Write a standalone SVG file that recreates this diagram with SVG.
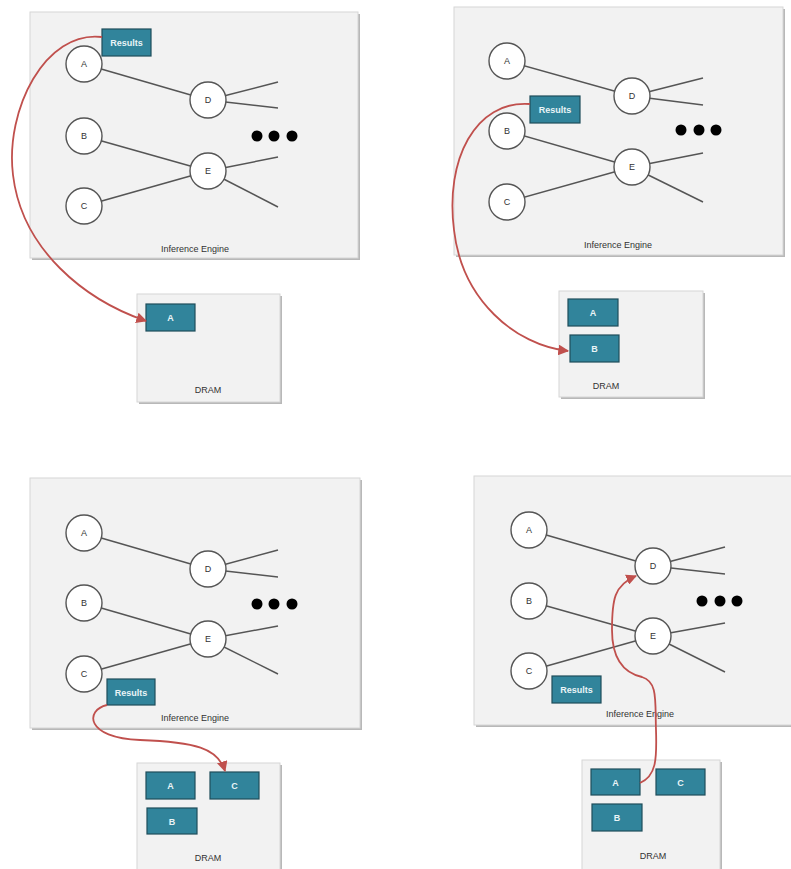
<svg xmlns="http://www.w3.org/2000/svg" width="791" height="869" viewBox="0 0 791 869">
<defs>
<style>
.panel{fill:#f2f2f2;stroke:#d6d6d6;stroke-width:1}
.shadow{fill:#b8b8b8}
.node{fill:#ffffff;stroke:#555555;stroke-width:1.4}
.edge{stroke:#555555;stroke-width:1.5;fill:none}
.box{fill:#31849b;stroke:#1e4d5a;stroke-width:1.2}
.lbl{font-family:"Liberation Sans",Arial,sans-serif;font-size:9px;fill:#333333;text-anchor:middle}
.boxlbl{font-family:"Liberation Sans",Arial,sans-serif;font-size:9px;font-weight:bold;fill:#eaf4f7;text-anchor:middle}
.cap{font-family:"Liberation Sans",Arial,sans-serif;font-size:9px;fill:#333333;text-anchor:middle}
.dot{fill:#000000}
.flow{stroke:#c0504d;stroke-width:1.8;fill:none;marker-end:url(#arr)}
</style>
<marker id="arr" viewBox="0 0 10 10" refX="9" refY="5" markerWidth="6" markerHeight="6" orient="auto" markerUnits="strokeWidth">
<path d="M0,0 L10,5 L0,10 z" fill="#c0504d"/>
</marker>
</defs>

<!-- Panel 1 -->
<g id="engine1">
<rect class="shadow" x="32" y="14" width="328" height="246"/>
<rect class="panel" x="30" y="12" width="328" height="246"/>
<text class="cap" x="195" y="252">Inference Engine</text>
</g>
<g id="edges1">
<line class="edge" x1="84" y1="64" x2="208" y2="100"/>
<line class="edge" x1="84" y1="136" x2="208" y2="171"/>
<line class="edge" x1="84" y1="206" x2="208" y2="171"/>
<line class="edge" x1="208" y1="100" x2="278" y2="82"/>
<line class="edge" x1="208" y1="100" x2="278" y2="108"/>
<line class="edge" x1="208" y1="171" x2="278" y2="157"/>
<line class="edge" x1="208" y1="171" x2="278" y2="207"/>
</g>
<g id="p1A"><circle class="node" cx="84" cy="64" r="18"/><text class="lbl" x="84" y="67">A</text></g>
<g id="p1B"><circle class="node" cx="84" cy="136" r="18"/><text class="lbl" x="84" y="139">B</text></g>
<g id="p1C"><circle class="node" cx="84" cy="206" r="18"/><text class="lbl" x="84" y="209">C</text></g>
<g id="p1D"><circle class="node" cx="208" cy="100" r="18"/><text class="lbl" x="208" y="103">D</text></g>
<g id="p1E"><circle class="node" cx="208" cy="171" r="18"/><text class="lbl" x="208" y="174">E</text></g>
<g id="p1dots"><circle class="dot" cx="257" cy="136" r="5.5"/><circle class="dot" cx="274" cy="136" r="5.5"/><circle class="dot" cx="292" cy="136" r="5.5"/></g>
<g id="p1Results"><rect class="box" x="102" y="29" width="49" height="27"/><text class="boxlbl" x="126.5" y="46">Results</text></g>
<g id="dram1">
<rect class="shadow" x="139" y="296" width="143" height="108"/>
<rect class="panel" x="137" y="294" width="143" height="108"/>
<text class="cap" x="208" y="393">DRAM</text>
</g>
<g id="d1A"><rect class="box" x="146" y="304" width="49" height="27"/><text class="boxlbl" x="170.5" y="321">A</text></g>

<!-- Panel 2 -->
<g id="engine2">
<rect class="shadow" x="456" y="9" width="329" height="248"/>
<rect class="panel" x="454" y="7" width="329" height="248"/>
<text class="cap" x="618" y="248">Inference Engine</text>
</g>
<g id="edges2">
<line class="edge" x1="507" y1="61" x2="632" y2="96"/>
<line class="edge" x1="507" y1="131" x2="632" y2="167"/>
<line class="edge" x1="507" y1="202" x2="632" y2="167"/>
<line class="edge" x1="632" y1="96" x2="703" y2="78"/>
<line class="edge" x1="632" y1="96" x2="703" y2="105"/>
<line class="edge" x1="632" y1="167" x2="703" y2="153"/>
<line class="edge" x1="632" y1="167" x2="703" y2="202"/>
</g>
<g id="p2A"><circle class="node" cx="507" cy="61" r="18"/><text class="lbl" x="507" y="64">A</text></g>
<g id="p2B"><circle class="node" cx="507" cy="131" r="18"/><text class="lbl" x="507" y="134">B</text></g>
<g id="p2C"><circle class="node" cx="507" cy="202" r="18"/><text class="lbl" x="507" y="205">C</text></g>
<g id="p2D"><circle class="node" cx="632" cy="96" r="18"/><text class="lbl" x="632" y="99">D</text></g>
<g id="p2E"><circle class="node" cx="632" cy="167" r="18"/><text class="lbl" x="632" y="170">E</text></g>
<g id="p2dots"><circle class="dot" cx="681" cy="130" r="5.5"/><circle class="dot" cx="699" cy="130" r="5.5"/><circle class="dot" cx="716" cy="130" r="5.5"/></g>
<g id="p2Results"><rect class="box" x="530" y="96" width="50" height="27"/><text class="boxlbl" x="555" y="113">Results</text></g>
<g id="dram2">
<rect class="shadow" x="561" y="293" width="144" height="106"/>
<rect class="panel" x="559" y="291" width="144" height="106"/>
<text class="cap" x="606" y="389">DRAM</text>
</g>
<g id="d2A"><rect class="box" x="568" y="299" width="50" height="27"/><text class="boxlbl" x="593" y="316">A</text></g>
<g id="d2B"><rect class="box" x="570" y="335" width="49" height="27"/><text class="boxlbl" x="594.5" y="352">B</text></g>

<!-- Panel 3 -->
<g id="engine3">
<rect class="shadow" x="32" y="480" width="330" height="250"/>
<rect class="panel" x="30" y="478" width="330" height="250"/>
<text class="cap" x="195" y="721">Inference Engine</text>
</g>
<g id="edges3">
<line class="edge" x1="84" y1="533" x2="208" y2="569"/>
<line class="edge" x1="84" y1="603" x2="208" y2="639"/>
<line class="edge" x1="84" y1="674" x2="208" y2="639"/>
<line class="edge" x1="208" y1="569" x2="278" y2="550"/>
<line class="edge" x1="208" y1="569" x2="278" y2="577"/>
<line class="edge" x1="208" y1="639" x2="278" y2="626"/>
<line class="edge" x1="208" y1="639" x2="278" y2="674"/>
</g>
<g id="p3A"><circle class="node" cx="84" cy="533" r="18"/><text class="lbl" x="84" y="536">A</text></g>
<g id="p3B"><circle class="node" cx="84" cy="603" r="18"/><text class="lbl" x="84" y="606">B</text></g>
<g id="p3C"><circle class="node" cx="84" cy="674" r="18"/><text class="lbl" x="84" y="677">C</text></g>
<g id="p3D"><circle class="node" cx="208" cy="569" r="18"/><text class="lbl" x="208" y="572">D</text></g>
<g id="p3E"><circle class="node" cx="208" cy="639" r="18"/><text class="lbl" x="208" y="642">E</text></g>
<g id="p3dots"><circle class="dot" cx="257" cy="604" r="5.5"/><circle class="dot" cx="274" cy="604" r="5.5"/><circle class="dot" cx="292" cy="604" r="5.5"/></g>
<g id="p3Results"><rect class="box" x="107" y="679" width="48" height="26"/><text class="boxlbl" x="131" y="696">Results</text></g>
<g id="dram3">
<rect class="shadow" x="139" y="765" width="143" height="110"/>
<rect class="panel" x="137" y="763" width="143" height="110"/>
<text class="cap" x="208" y="861">DRAM</text>
</g>
<g id="d3A"><rect class="box" x="146" y="772" width="49" height="27"/><text class="boxlbl" x="170.5" y="789">A</text></g>
<g id="d3C"><rect class="box" x="210" y="772" width="49" height="27"/><text class="boxlbl" x="234.5" y="789">C</text></g>
<g id="d3B"><rect class="box" x="147" y="808" width="50" height="26"/><text class="boxlbl" x="172" y="825">B</text></g>

<!-- Panel 4 -->
<g id="engine4">
<rect class="shadow" x="476" y="478" width="320" height="249"/>
<rect class="panel" x="474" y="476" width="320" height="249"/>
<text class="cap" x="640" y="717">Inference Engine</text>
</g>
<g id="edges4">
<line class="edge" x1="529" y1="530" x2="653" y2="566"/>
<line class="edge" x1="529" y1="601" x2="653" y2="636"/>
<line class="edge" x1="529" y1="671" x2="653" y2="636"/>
<line class="edge" x1="653" y1="566" x2="725" y2="547"/>
<line class="edge" x1="653" y1="566" x2="725" y2="574"/>
<line class="edge" x1="653" y1="636" x2="725" y2="623"/>
<line class="edge" x1="653" y1="636" x2="725" y2="672"/>
</g>
<g id="p4A"><circle class="node" cx="529" cy="530" r="18"/><text class="lbl" x="529" y="533">A</text></g>
<g id="p4B"><circle class="node" cx="529" cy="601" r="18"/><text class="lbl" x="529" y="604">B</text></g>
<g id="p4C"><circle class="node" cx="529" cy="671" r="18"/><text class="lbl" x="529" y="674">C</text></g>
<g id="p4D"><circle class="node" cx="653" cy="566" r="18"/><text class="lbl" x="653" y="569">D</text></g>
<g id="p4E"><circle class="node" cx="653" cy="636" r="18"/><text class="lbl" x="653" y="639">E</text></g>
<g id="p4dots"><circle class="dot" cx="702" cy="601" r="5.5"/><circle class="dot" cx="720" cy="601" r="5.5"/><circle class="dot" cx="737" cy="601" r="5.5"/></g>
<g id="p4Results"><rect class="box" x="552" y="676" width="49" height="27"/><text class="boxlbl" x="576.5" y="693">Results</text></g>
<g id="dram4">
<rect class="shadow" x="584" y="762" width="138" height="112"/>
<rect class="panel" x="582" y="760" width="138" height="112"/>
<text class="cap" x="653" y="859">DRAM</text>
</g>
<g id="d4A"><rect class="box" x="591" y="769" width="49" height="26"/><text class="boxlbl" x="615.5" y="786">A</text></g>
<g id="d4C"><rect class="box" x="656" y="769" width="49" height="26"/><text class="boxlbl" x="680.5" y="786">C</text></g>
<g id="d4B"><rect class="box" x="592" y="804" width="50" height="27"/><text class="boxlbl" x="617" y="821">B</text></g>

<!-- Connectors -->
<g id="connectors">
<path class="flow" d="M102,37 C45,30 5,110 13,175 C22,250 85,300 146,321"/>
<path class="flow" d="M530,104 C475,100 445,160 454,230 C462,300 515,345 568,351"/>
<path class="flow" d="M107,705 C85,710 85,738 140,740 C195,742 218,748 225,771"/>
<path class="flow" d="M640,783 C656,776 657,760 656,730 C655,700 658,682 642,677 C620,672 612,655 612,630 C612,600 614,585 636,576"/>
</g>
</svg>
